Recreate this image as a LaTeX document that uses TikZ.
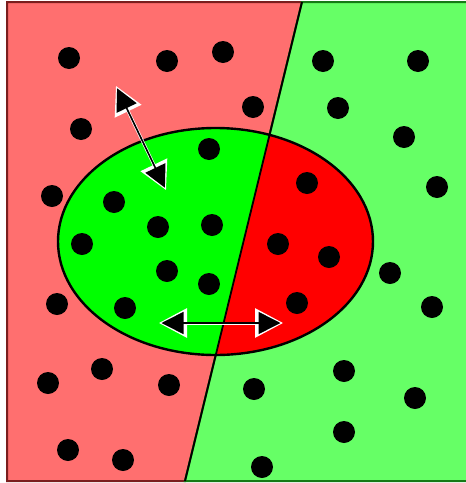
\documentclass[tikz,border=0pt]{standalone}
\usepackage{tikz}
\usetikzlibrary{arrows.meta, calc}
\usepackage{xcolor}
\definecolor{zone-red}{HTML}{FF6F6F}
\definecolor{zone-green}{HTML}{66FF66}
\definecolor{blob-green}{HTML}{00FF00}
\definecolor{blob-red}{HTML}{FF0000}
\definecolor{edge-red}{HTML}{7A1E1E}
\definecolor{edge-green}{HTML}{157A15}
\newcommand{\pdot}[2]{%  \pdot{x}{y}
  \fill[black] (#1,#2) circle (11pt);}

\begin{document}
\begin{tikzpicture}[x=1pt, y=-1pt,
    glow/.style={white, line width=3pt,
      {Triangle[length=28pt,width=29pt]}-{Triangle[length=28pt,width=29pt]}},
    shaft/.style={black, line width=1.6pt, shorten <=2.5pt, shorten >=2.5pt,
      {Triangle[length=22pt,width=22pt]}-{Triangle[length=22pt,width=22pt]}}]
  \useasboundingbox (0,0) rectangle (466,483);
  \fill[white] (0,0) rectangle (466,483);

  % ── the two half-planes ──
  \coordinate (cut-top) at (302,2);
  \coordinate (cut-bot) at (185,481);
  \filldraw[fill=zone-red, draw=edge-red, line width=2pt]
        (7,2) -- (cut-top) -- (cut-bot) -- (7,481) -- cycle;
  \filldraw[fill=zone-green, draw=edge-green, line width=2pt]
        (cut-top) -- (470,2) -- (470,481) -- (cut-bot) -- cycle;

  % ── the ellipse, coloured the other way round ──
  \coordinate (blob) at (215.5,241.5);
  \fill[blob-green] (blob) ellipse [x radius=157.5pt, y radius=113.5pt];
  \begin{scope}
    \clip (cut-top) -- (470,2) -- (470,481) -- (cut-bot) -- cycle;
    \fill[blob-red] (blob) ellipse [x radius=157.5pt, y radius=113.5pt];
  \end{scope}
  \draw[black, line width=1.8pt] (cut-top) -- (cut-bot);
  \draw[black, line width=2.4pt] (blob) ellipse [x radius=157.5pt, y radius=113.5pt];

  % ── points ──
  \pdot{69}{58}\pdot{167}{61}\pdot{223}{52}\pdot{253}{107}
  \pdot{81}{129}\pdot{209}{149}\pdot{323}{61}\pdot{418}{61}
  \pdot{338}{108}\pdot{404}{137}\pdot{52}{196}\pdot{114}{202}
  \pdot{158}{227}\pdot{212}{225}\pdot{82}{244}\pdot{307}{183}
  \pdot{437}{187}\pdot{278}{244}\pdot{329}{257}\pdot{167}{271}
  \pdot{209}{284}\pdot{390}{273}\pdot{57}{304}\pdot{125}{308}
  \pdot{297}{303}\pdot{432}{307}\pdot{48}{383}\pdot{102}{369}
  \pdot{169}{385}\pdot{254}{389}\pdot{344}{371}\pdot{415}{398}
  \pdot{344}{432}\pdot{68}{450}\pdot{123}{460}\pdot{262}{467}

  % ── double arrows ──
  \coordinate (swap-a) at (116,86);
  \coordinate (swap-b) at (166,190);
  \coordinate (shift-a) at (159,323);
  \coordinate (shift-b) at (283,323);
  \draw[glow] (swap-a) -- (swap-b);
  \draw[shaft] (swap-a) -- (swap-b);
  \draw[glow] (shift-a) -- (shift-b);
  \draw[shaft] (shift-a) -- (shift-b);
\end{tikzpicture}
\end{document}
